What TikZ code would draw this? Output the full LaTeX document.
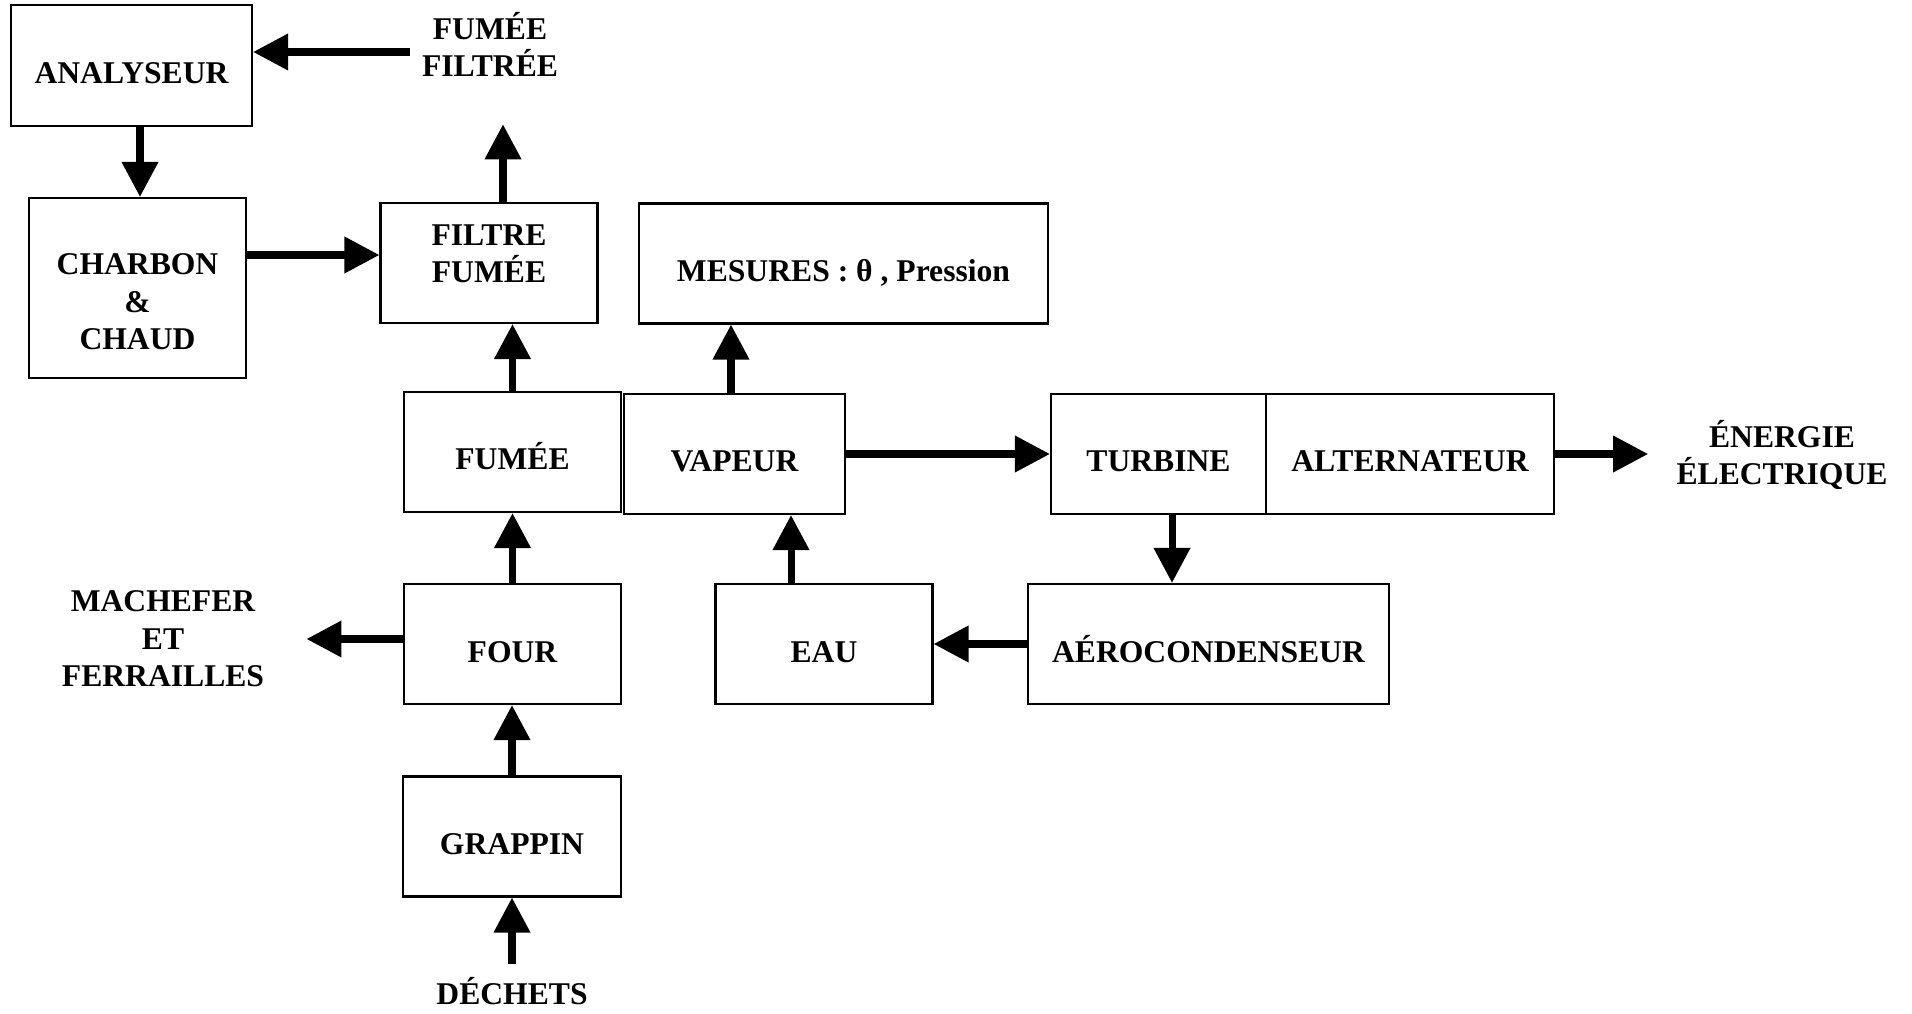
\documentclass[tikz,border=0pt]{standalone}
\usepackage{fontspec}
\setmainfont{Liberation Serif}
\usepackage{tikz}
\usetikzlibrary{arrows.meta, positioning}

\begin{document}
\begin{tikzpicture}[
  bloc/.style={draw, line width=0.6pt, minimum width=2.17cm,
               minimum height=1.2cm, align=center, inner sep=0pt},
  seul/.style={bloc, text height=3.6mm, text depth=0pt},
  fleche/.style={line width=2pt, -{Triangle[length=3.5mm, width=3.5mm]}},
  every node/.style={font=\fontsize{9}{10.7}\selectfont\bfseries}
]
  \useasboundingbox (0,0) rectangle (19.12,10.13);
  \node[seul, minimum width=2.41cm, minimum height=1.21cm] (analyseur) at (1.315,9.475) {ANALYSEUR};
  \node[bloc, minimum height=1.8cm, text height=12.4mm, text depth=0pt] (charbon) at (1.375,7.25) {CHARBON\\\&\\CHAUD};
  \node[bloc, text height=4mm, text depth=0pt] (filtre) at (4.89,7.50) {FILTRE\\FUMÉE};
  \node[seul, minimum width=4.09cm] (mesures) at (8.435,7.495) {MESURES : θ , Pression};
  \node[seul] (fumee) at (5.125,5.61) {FUMÉE};
  \node[seul, minimum width=2.21cm] (vapeur) at (7.345,5.59) {VAPEUR};
  \node[seul, minimum width=2.15cm] (turbine) at (11.585,5.59) {TURBINE};
  \node[seul, minimum width=2.88cm, right=-0.6pt of turbine] (altern) {ALTERNATEUR};
  \node[seul] (four) at (5.125,3.69) {FOUR};
  \node[seul] (eau) at (8.24,3.69) {EAU};
  \node[seul, minimum width=3.61cm] (aero) at (12.085,3.69) {AÉROCONDENSEUR};
  \node[seul, minimum width=2.18cm] (grappin) at (5.12,1.765) {GRAPPIN};
  % entrees / sorties
  \node[align=center] (fumfil) at (4.90,9.685) {FUMÉE\\FILTRÉE};
  \node[align=center] (machefer) at (1.63,3.74) {MACHEFER\\ET\\FERRAILLES};
  \node[align=center] (energie) at (17.82,5.58) {ÉNERGIE\\ÉLECTRIQUE};
  \node[anchor=base] (dechets) at (5.12,0.09) {DÉCHETS};
  % fleches
  \draw[fleche] (fumfil.west |- 0,9.61) -- (analyseur.east |- 0,9.61);
  \draw[fleche] (analyseur.south -| 1.40,0) -- (charbon.north -| 1.40,0);
  \draw[fleche] (charbon.east |- 0,7.58) -- (filtre.west |- 0,7.58);
  \draw[fleche, shorten >=3.5mm] (filtre.north -| 5.03,0) -- (fumfil.south -| 5.03,0);
  \draw[fleche] (fumee.north) -- (fumee.north |- filtre.south);
  \draw[fleche] (vapeur.north -| 7.31,0) -- (mesures.south -| 7.31,0);
  \draw[fleche] (vapeur.east) -- (turbine.west);
  \draw[fleche, shorten >=1.6mm] (altern.east) -- (altern.east -| energie.west);
  \draw[fleche] (turbine.south -| 11.72,0) -- (aero.north -| 11.72,0);
  \draw[fleche] (aero.west) -- (eau.east);
  \draw[fleche] (eau.north -| 7.91,0) -- (vapeur.south -| 7.91,0);
  \draw[fleche] (four.north) -- (fumee.south);
  \draw[fleche, shorten >=3mm] (four.west |- machefer.east) -- (machefer.east);
  \draw[fleche] (grappin.north) -- (grappin.north |- four.south);
  \draw[fleche] (dechets.north) -- (dechets.north |- grappin.south);
\end{tikzpicture}
\end{document}
